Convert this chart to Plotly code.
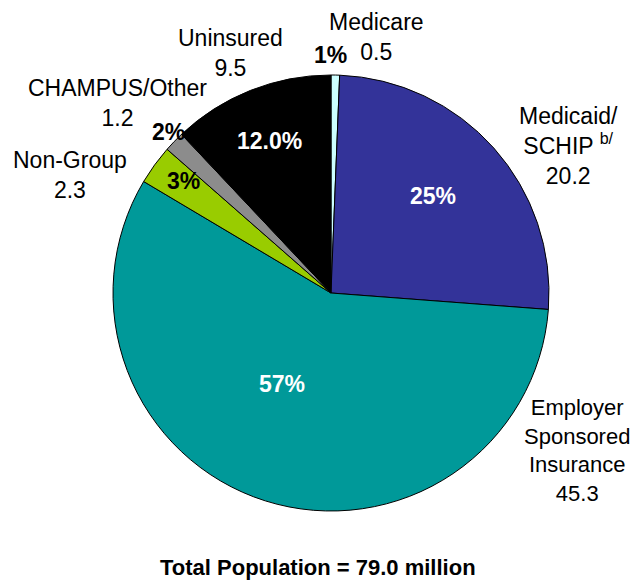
import plotly.graph_objects as go

categories = ["Medicare", "Medicaid/SCHIP", "Employer Sponsored Insurance", "Non-Group", "CHAMPUS/Other", "Uninsured"]
values = [0.5, 20.2, 45.3, 2.3, 1.2, 9.5]
percent_labels = ["1%", "25%", "57%", "3%", "2%", "12.0%"]
outer_labels = ["Medicare<br>0.5", "Medicaid/<br>SCHIP <sup>b/</sup><br>20.2",
                "Employer<br>Sponsored<br>Insurance<br>45.3", "Non-Group<br>2.3",
                "CHAMPUS/Other<br>1.2", "Uninsured<br>9.5"]
colors = ["#CCFFFF", "#333399", "#009999", "#99CC00", "#8C8C8C", "#000000"]

# page has an 8px body margin; figure fills the rest of the 639x581 window
OFF = 8
W, H = 639 - OFF, 581 - OFF
cx, cy, r = 331 - OFF, 293 - OFF, 218

fig = go.Figure(go.Pie(
    labels=categories, values=values, sort=False, direction="clockwise", rotation=0,
    marker=dict(colors=colors, line=dict(color="#000000", width=1)),
    textinfo="none", hoverinfo="label+value", showlegend=False,
    domain=dict(x=[(cx - r) / W, (cx + r) / W], y=[(H - cy - r) / H, (H - cy + r) / H]),
))

FONT = "Liberation Sans, Arial, sans-serif"
FS = 23

def ann(x, y, text, size=FS, color="black", bold=False):
    # x, y given in page pixels of the reference
    t = f"<b>{text}</b>" if bold else text
    fig.add_annotation(x=(x - OFF) / W, y=1 - (y - OFF) / H, xref="paper", yref="paper", text=t,
                       showarrow=False, xanchor="center", yanchor="middle",
                       font=dict(family=FONT, size=size, color=color))

# outer labels (category + value)
ann(376, 37, outer_labels[0])
ann(568, 146, outer_labels[1])
ann(577, 450, outer_labels[2], size=22)
ann(70, 175, outer_labels[3])
ann(117, 103, outer_labels[4])
ann(230, 53, outer_labels[5])

# percent labels
ann(330, 55, percent_labels[0], bold=True)
ann(433, 196, percent_labels[1], color="white", bold=True)
ann(282, 384, percent_labels[2], color="white", bold=True)
ann(183, 181, percent_labels[3], bold=True)
ann(168, 132, percent_labels[4], bold=True)
ann(269, 141, percent_labels[5], color="white", bold=True)

ann(318, 567, "Total Population = 79.0 million", size=22, bold=True)

fig.update_layout(width=W, height=H, margin=dict(l=0, r=0, t=0, b=0),
                  paper_bgcolor="white", plot_bgcolor="white")
fig.write_html("out.html")
